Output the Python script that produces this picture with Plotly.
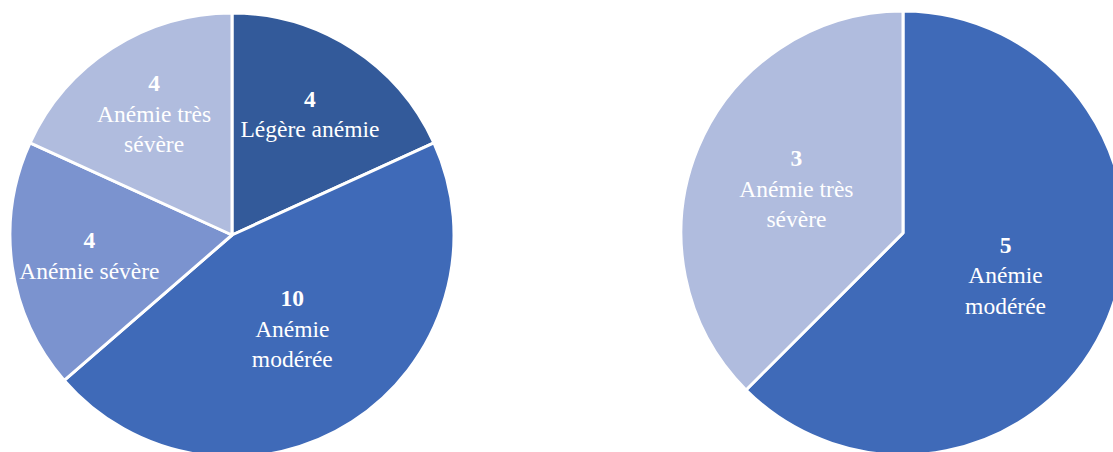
import plotly.graph_objects as go

# Left pie
left_labels = ["Légère anémie", "Anémie modérée", "Anémie sévère", "Anémie très sévère"]
left_values = [4, 10, 4, 4]
left_text = ["Légère anémie", "Anémie<br>modérée", "Anémie sévère", "Anémie très<br>sévère"]
left_colors = ["#335A9A", "#3F6AB8", "#7B93CF", "#B0BCDE"]

# Right pie
right_labels = ["Anémie modérée", "Anémie très sévère"]
right_values = [5, 3]
right_text = ["Anémie<br>modérée", "Anémie très<br>sévère"]
right_colors = ["#3F6AB8", "#B0BCDE"]

W, H = 1130, 462

def dom(cx, cy, r):
    return dict(x=[(cx - r) / W, (cx + r) / W], y=[1 - (cy + r) / H, 1 - (cy - r) / H])

font = dict(family="Liberation Serif, Times New Roman, serif", size=23.5, color="white")

fig = go.Figure()
fig.add_trace(go.Pie(
    labels=left_labels, values=left_values, text=left_text,
    texttemplate="<b>%{value}</b><br>%{text}",
    sort=False, direction="clockwise", rotation=0,
    marker=dict(colors=left_colors, line=dict(color="white", width=3)),
    textposition="inside", insidetextorientation="horizontal",
    textfont=font, domain=dom(232, 235, 222), hoverinfo="label+value",
))
fig.add_trace(go.Pie(
    labels=right_labels, values=right_values, text=right_text,
    texttemplate="<b>%{value}</b><br>%{text}",
    sort=False, direction="clockwise", rotation=0,
    marker=dict(colors=right_colors, line=dict(color="white", width=3)),
    textposition="inside", insidetextorientation="horizontal",
    textfont=font, domain=dom(903, 233, 222), hoverinfo="label+value",
))
fig.update_layout(
    width=W, height=H, margin=dict(l=0, r=0, t=0, b=0),
    showlegend=False, paper_bgcolor="white", plot_bgcolor="white",
    uniformtext=dict(mode="show", minsize=23.5),
)
fig.write_html("out.html")
